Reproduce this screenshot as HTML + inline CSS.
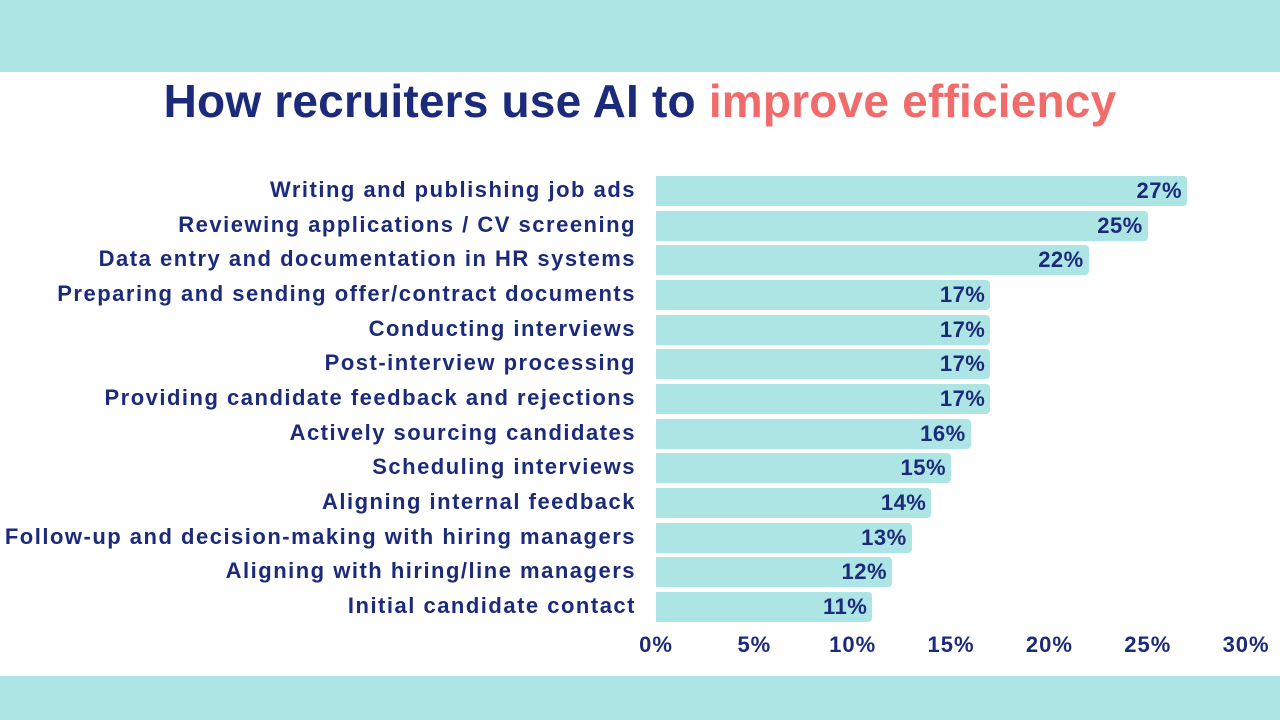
<!DOCTYPE html>
<html><head><meta charset="utf-8"><style>
body{margin:0;width:1280px;height:720px;background:#fff;position:relative;overflow:hidden;font-family:"Liberation Sans",sans-serif;}
.band{position:absolute;left:0;width:1280px;background:#ade4e4;}
.title{position:absolute;top:74px;left:0;width:1280px;text-align:center;font-size:46px;font-weight:bold;color:#1b2a7a;letter-spacing:0.2px;}
.title span{color:#f26b6b;}
.lab{position:absolute;right:644px;font-size:22px;font-weight:bold;letter-spacing:1.5px;color:#1b2a7a;white-space:nowrap;line-height:30px;}
.bar{position:absolute;left:656px;height:30px;background:#ade4e4;border-radius:0 4px 4px 0;}
.val{position:absolute;right:5px;top:0;line-height:30px;font-size:22px;font-weight:bold;letter-spacing:0.5px;color:#1b2a7a;}
.tick{position:absolute;top:632px;width:80px;margin-left:-40px;text-align:center;font-size:22px;font-weight:bold;letter-spacing:1px;color:#1b2a7a;}
</style></head><body>
<div class="band" style="top:0;height:72px"></div>
<div class="band" style="top:676px;height:44px"></div>
<div class="title">How recruiters use AI to <span>improve efficiency</span></div>
<div id="c"></div>
<script>
var d=[["Writing and publishing job ads",27],["Reviewing applications / CV screening",25],["Data entry and documentation in HR systems",22],["Preparing and sending offer/contract documents",17],["Conducting interviews",17],["Post-interview processing",17],["Providing candidate feedback and rejections",17],["Actively sourcing candidates",16],["Scheduling interviews",15],["Aligning internal feedback",14],["Follow-up and decision-making with hiring managers",13],["Aligning with hiring/line managers",12],["Initial candidate contact",11]];
var h="";
d.forEach(function(r,i){var y=176+i*34.67;var w=r[1]*19.67;
h+='<div class="lab" style="top:'+(y-1)+'px">'+r[0]+'</div>';
h+='<div class="bar" style="top:'+y+'px;width:'+w+'px"><div class="val">'+r[1]+'%</div></div>';});
for(var t=0;t<=30;t+=5){h+='<div class="tick" style="left:'+(656+t*19.67)+'px">'+t+'%</div>';}
document.getElementById("c").innerHTML=h;
</script>
</body></html>
